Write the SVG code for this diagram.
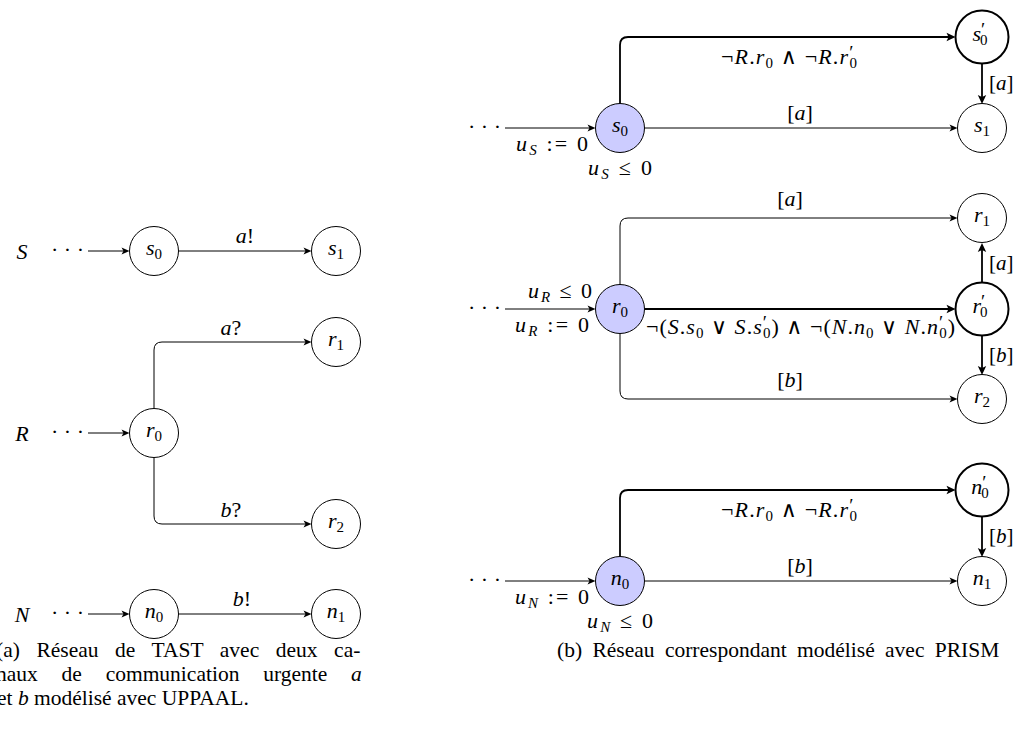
<svg xmlns="http://www.w3.org/2000/svg" width="1014" height="749" viewBox="0 0 1014 749" font-family="Liberation Serif, DejaVu Serif, serif">
<style>
text { fill:#000; }
.m { font-size:22px; font-style:italic; }
.n { font-style:normal; }
.s { font-size:15px; }
.p { font-size:19px; font-style:normal; }
.c { font-size:21.5px; font-style:normal; }
.rl { font-size:21px; }
.node { fill:#fff; stroke:#000; stroke-width:1; }
.k { stroke-width:2; }
.f { fill:#ccccff; }
.e { fill:none; stroke:#000; stroke-width:1; marker-end:url(#ah); }
.ek { fill:none; stroke:#000; stroke-width:1.8; marker-end:url(#ahk); }
</style>
<defs>
<marker id="ah" markerUnits="userSpaceOnUse" viewBox="-8 -5 12 10" markerWidth="12" markerHeight="10" refX="0" refY="0" orient="auto" overflow="visible">
<path d="M3,0 L-5,-3.5 L-3,0 L-5,3.5 z" fill="#000"/>
</marker>
<marker id="ahk" markerUnits="userSpaceOnUse" viewBox="-8 -5 12 10" markerWidth="12" markerHeight="10" refX="0" refY="0" orient="auto" overflow="visible">
<path d="M3.5,0 L-5.5,-4.2 L-3.5,0 L-5.5,4.2 z" fill="#000"/>
</marker>
</defs>
<rect width="1014" height="749" fill="#fff"/>

<g id="connectors">
  <path class="e" d="M88,251 H126.5"/>
  <path class="e" d="M178.5,251 H308.5"/>
  <path class="e" d="M88,433 H126.5"/>
  <path class="e" d="M154,408.5 V350 Q154,342 162,342 H308.5"/>
  <path class="e" d="M154,457.5 V516 Q154,524 162,524 H308.5"/>
  <path class="e" d="M88,614 H126.5"/>
  <path class="e" d="M178.5,614 H308.5"/>

  <path class="e" d="M505,128 H592.5"/>
  <path class="ek" d="M620,103.5 V45 Q620,37 628,37 H952"/>
  <path class="e" d="M644.5,128 H954.5"/>
  <path class="ek" d="M982,64 V100.5"/>

  <path class="e" d="M505,309 H592.5"/>
  <path class="e" d="M620,284.5 V226 Q620,218 628,218 H954.5"/>
  <path class="ek" d="M644.5,309 H952"/>
  <path class="e" d="M620,333.5 V391 Q620,399 628,399 H954.5"/>
  <path class="ek" d="M982,282 V246.5"/>
  <path class="ek" d="M982,336 V371.5"/>

  <path class="e" d="M505,581 H592.5"/>
  <path class="ek" d="M620,556.5 V498 Q620,490 628,490 H952"/>
  <path class="e" d="M644.5,581 H954.5"/>
  <path class="ek" d="M982,517 V553.5"/>

  <text class="m" x="245" y="243" text-anchor="middle">a<tspan class="n">!</tspan></text>
  <text class="m" x="231" y="335" text-anchor="middle">a<tspan class="n">?</tspan></text>
  <text class="m" x="231" y="517" text-anchor="middle">b<tspan class="n">?</tspan></text>
  <text class="m" x="242" y="606" text-anchor="middle">b<tspan class="n">!</tspan></text>

  <text class="m" x="721" y="64" textLength="136" lengthAdjust="spacing"><tspan class="n">¬</tspan>R<tspan class="n">.</tspan>r<tspan class="s n" dy="4">0</tspan><tspan class="n" dy="-4"> ∧ ¬</tspan>R<tspan class="n">.</tspan>r<tspan class="p" dy="-5">′</tspan><tspan class="s n" dx="-5" dy="9">0</tspan></text>
  <text class="m" x="800" y="120" text-anchor="middle"><tspan class="n">[</tspan>a<tspan class="n">]</tspan></text>
  <text class="m rl" x="989" y="90"><tspan class="n">[</tspan>a<tspan class="n">]</tspan></text>
  <text class="m" x="516" y="151" textLength="72" lengthAdjust="spacing">u<tspan class="s" dy="4">S</tspan><tspan class="n" dy="-4"> := 0</tspan></text>
  <text class="m" x="588" y="175" textLength="64" lengthAdjust="spacing">u<tspan class="s" dy="4">S</tspan><tspan class="n" dy="-4"> ≤ 0</tspan></text>

  <text class="m" x="790" y="206" text-anchor="middle"><tspan class="n">[</tspan>a<tspan class="n">]</tspan></text>
  <text class="m" x="646" y="334" textLength="309" lengthAdjust="spacing"><tspan class="n">¬(</tspan>S<tspan class="n">.</tspan>s<tspan class="s n" dy="4">0</tspan><tspan class="n" dy="-4"> ∨ </tspan>S<tspan class="n">.</tspan>s<tspan class="p" dy="-5">′</tspan><tspan class="s n" dx="-5" dy="9">0</tspan><tspan class="n" dy="-4">) ∧ ¬(</tspan>N<tspan class="n">.</tspan>n<tspan class="s n" dy="4">0</tspan><tspan class="n" dy="-4"> ∨ </tspan>N<tspan class="n">.</tspan>n<tspan class="p" dy="-5">′</tspan><tspan class="s n" dx="-5" dy="9">0</tspan><tspan class="n" dy="-4">)</tspan></text>
  <text class="m" x="790" y="387" text-anchor="middle"><tspan class="n">[</tspan>b<tspan class="n">]</tspan></text>
  <text class="m rl" x="989" y="270"><tspan class="n">[</tspan>a<tspan class="n">]</tspan></text>
  <text class="m rl" x="989" y="362"><tspan class="n">[</tspan>b<tspan class="n">]</tspan></text>
  <text class="m" x="528" y="298" textLength="64" lengthAdjust="spacing">u<tspan class="s" dy="4">R</tspan><tspan class="n" dy="-4"> ≤ 0</tspan></text>
  <text class="m" x="515" y="332" textLength="74" lengthAdjust="spacing">u<tspan class="s" dy="4">R</tspan><tspan class="n" dy="-4"> := 0</tspan></text>

  <text class="m" x="721" y="517" textLength="136" lengthAdjust="spacing"><tspan class="n">¬</tspan>R<tspan class="n">.</tspan>r<tspan class="s n" dy="4">0</tspan><tspan class="n" dy="-4"> ∧ ¬</tspan>R<tspan class="n">.</tspan>r<tspan class="p" dy="-5">′</tspan><tspan class="s n" dx="-5" dy="9">0</tspan></text>
  <text class="m" x="800" y="573" text-anchor="middle"><tspan class="n">[</tspan>b<tspan class="n">]</tspan></text>
  <text class="m rl" x="989" y="543"><tspan class="n">[</tspan>b<tspan class="n">]</tspan></text>
  <text class="m" x="515" y="604" textLength="74" lengthAdjust="spacing">u<tspan class="s" dy="4">N</tspan><tspan class="n" dy="-4"> := 0</tspan></text>
  <text class="m" x="587" y="628" textLength="66" lengthAdjust="spacing">u<tspan class="s" dy="4">N</tspan><tspan class="n" dy="-4"> ≤ 0</tspan></text>
</g>

<text class="m" x="22" y="259" text-anchor="middle">S</text>
<text class="m" x="22" y="441" text-anchor="middle">R</text>
<text class="m" x="22" y="622" text-anchor="middle">N</text>
<text class="m n" x="51" y="257" letter-spacing="5.5">···</text>
<text class="m n" x="51" y="439" letter-spacing="5.5">···</text>
<text class="m n" x="51" y="620" letter-spacing="5.5">···</text>
<text class="m n" x="468" y="134" letter-spacing="5.5">···</text>
<text class="m n" x="468" y="315" letter-spacing="5.5">···</text>
<text class="m n" x="468" y="587" letter-spacing="5.5">···</text>

<g id="L_s0"><circle class="node" cx="154" cy="251" r="24.5"/><text class="m" x="154" y="255" text-anchor="middle">s<tspan class="s n" dy="4">0</tspan></text></g>
<g id="L_s1"><circle class="node" cx="336" cy="251" r="24.5"/><text class="m" x="336" y="255" text-anchor="middle">s<tspan class="s n" dy="4">1</tspan></text></g>
<g id="L_r0"><circle class="node" cx="154" cy="433" r="24.5"/><text class="m" x="154" y="437" text-anchor="middle">r<tspan class="s n" dy="4">0</tspan></text></g>
<g id="L_r1"><circle class="node" cx="336" cy="342" r="24.5"/><text class="m" x="336" y="346" text-anchor="middle">r<tspan class="s n" dy="4">1</tspan></text></g>
<g id="L_r2"><circle class="node" cx="336" cy="524" r="24.5"/><text class="m" x="336" y="528" text-anchor="middle">r<tspan class="s n" dy="4">2</tspan></text></g>
<g id="L_n0"><circle class="node" cx="154" cy="614" r="24.5"/><text class="m" x="154" y="618" text-anchor="middle">n<tspan class="s n" dy="4">0</tspan></text></g>
<g id="L_n1"><circle class="node" cx="336" cy="614" r="24.5"/><text class="m" x="336" y="618" text-anchor="middle">n<tspan class="s n" dy="4">1</tspan></text></g>

<g id="R_s0"><circle class="node f" cx="620" cy="128" r="24.5"/><text class="m" x="620" y="132" text-anchor="middle">s<tspan class="s n" dy="4">0</tspan></text></g>
<g id="R_s0p"><circle class="node k" cx="982" cy="37" r="26.5"/><text class="m" x="980" y="41" text-anchor="middle">s<tspan class="p" dy="-5">′</tspan><tspan class="s n" dx="-5" dy="9">0</tspan></text></g>
<g id="R_s1"><circle class="node" cx="982" cy="128" r="24.5"/><text class="m" x="982" y="132" text-anchor="middle">s<tspan class="s n" dy="4">1</tspan></text></g>

<g id="R_r0"><circle class="node f" cx="620" cy="309" r="24.5"/><text class="m" x="620" y="313" text-anchor="middle">r<tspan class="s n" dy="4">0</tspan></text></g>
<g id="R_r1"><circle class="node" cx="982" cy="218" r="24.5"/><text class="m" x="982" y="222" text-anchor="middle">r<tspan class="s n" dy="4">1</tspan></text></g>
<g id="R_r0p"><circle class="node k" cx="982" cy="309" r="26.5"/><text class="m" x="980" y="313" text-anchor="middle">r<tspan class="p" dy="-5">′</tspan><tspan class="s n" dx="-5" dy="9">0</tspan></text></g>
<g id="R_r2"><circle class="node" cx="982" cy="399" r="24.5"/><text class="m" x="982" y="403" text-anchor="middle">r<tspan class="s n" dy="4">2</tspan></text></g>

<g id="R_n0"><circle class="node f" cx="620" cy="581" r="24.5"/><text class="m" x="620" y="585" text-anchor="middle">n<tspan class="s n" dy="4">0</tspan></text></g>
<g id="R_n0p"><circle class="node k" cx="982" cy="490" r="26.5"/><text class="m" x="980" y="494" text-anchor="middle">n<tspan class="p" dy="-5">′</tspan><tspan class="s n" dx="-5" dy="9">0</tspan></text></g>
<g id="R_n1"><circle class="node" cx="982" cy="581" r="24.5"/><text class="m" x="982" y="585" text-anchor="middle">n<tspan class="s n" dy="4">1</tspan></text></g>

<text class="c" x="-4" y="657" word-spacing="11.2">(a) Réseau de TAST avec deux ca-</text>
<text class="c" x="-4" y="681" word-spacing="18.4">naux de communication urgente <tspan font-style="italic">a</tspan></text>
<text class="c" x="-3" y="705">et <tspan font-style="italic">b</tspan> modélisé avec UPPAAL.</text>
<text class="c" x="557" y="657" word-spacing="5">(b) Réseau correspondant modélisé avec PRISM</text>
</svg>
